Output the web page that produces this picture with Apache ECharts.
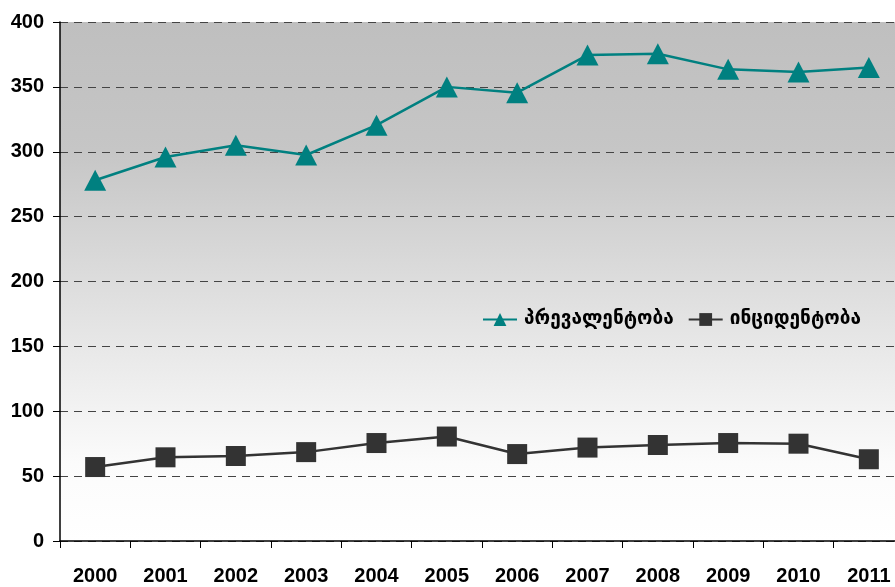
<!DOCTYPE html>
<html><head><meta charset="utf-8">
<script src="https://cdn.jsdelivr.net/npm/echarts@6/dist/echarts.min.js"></script>
<style>html,body{margin:0;padding:0;background:#fff}#c{width:895px;height:587px}</style>
</head><body><div id="c"></div>
<script>
var years = ['2000','2001','2002','2003','2004','2005','2006','2007','2008','2009','2010','2011'];
var prevalence = [278, 296, 305, 297.5, 320.5, 350, 345.5, 374.5, 375.5, 363.5, 361.5, 365];
var incidence = [57, 64.5, 65.5, 68.5, 75.5, 80.5, 67, 72, 74, 75.5, 75, 63];
var yTicks = [0, 50, 100, 150, 200, 250, 300, 350, 400];
var seriesNames = ['პრევალენტობა', 'ინციდენტობა'];

var chart = echarts.init(document.getElementById('c'), null, {renderer: 'canvas'});
chart.setOption({
  backgroundColor: '#ffffff',
  animation: false,
  grid: {
    left: 60, top: 22, height: 519, width: 844,
    outerBoundsMode: 'none',
    containLabel: false,
    show: true, borderWidth: 0,
    backgroundColor: new echarts.graphic.LinearGradient(0, 0, 0, 1, [
      {offset: 0, color: '#bfbfbf'},
      {offset: 0.25, color: '#c6c6c6'},
      {offset: 0.65, color: '#eaeaea'},
      {offset: 0.85, color: '#fbfbfb'},
      {offset: 1, color: '#ffffff'}
    ])
  },
  legend: {
    left: 477, top: 305,
    itemGap: 14, itemWidth: 34, itemHeight: 16,
    textStyle: {fontFamily: 'DejaVu Sans', fontWeight: 'bold', fontSize: 19, color: '#000', padding: [0, 0, 0, 2]},
    data: [seriesNames[0], seriesNames[1]]
  },
  xAxis: {
    type: 'category', data: years, boundaryGap: true,
    axisLine: {lineStyle: {color: '#000', width: 1.5}},
    axisTick: {show: true, length: 7, lineStyle: {color: '#000'}},
    axisLabel: {margin: 25, fontFamily: 'Liberation Sans', fontWeight: 'bold', fontSize: 20, color: '#000'},
    splitLine: {show: false}
  },
  yAxis: {
    type: 'value', min: 0, max: 400, interval: 50,
    axisLine: {show: true, lineStyle: {color: '#000', width: 1.5}},
    axisTick: {show: true, length: 7, lineStyle: {color: '#000'}},
    axisLabel: {margin: 16, fontFamily: 'Liberation Sans', fontWeight: 'bold', fontSize: 20, color: '#000'},
    splitLine: {show: true, lineStyle: {color: '#444', type: [8, 6], width: 1}}
  },
  series: [
    {
      name: seriesNames[0], type: 'line', data: prevalence,
      symbol: 'triangle', symbolSize: [22, 21],
      lineStyle: {color: '#008080', width: 2.5},
      itemStyle: {color: '#008080'}
    },
    {
      name: seriesNames[1], type: 'line', data: incidence,
      symbol: 'rect', symbolSize: 20,
      lineStyle: {color: '#333333', width: 2.5},
      itemStyle: {color: '#333333'}
    }
  ]
});
</script></body></html>
